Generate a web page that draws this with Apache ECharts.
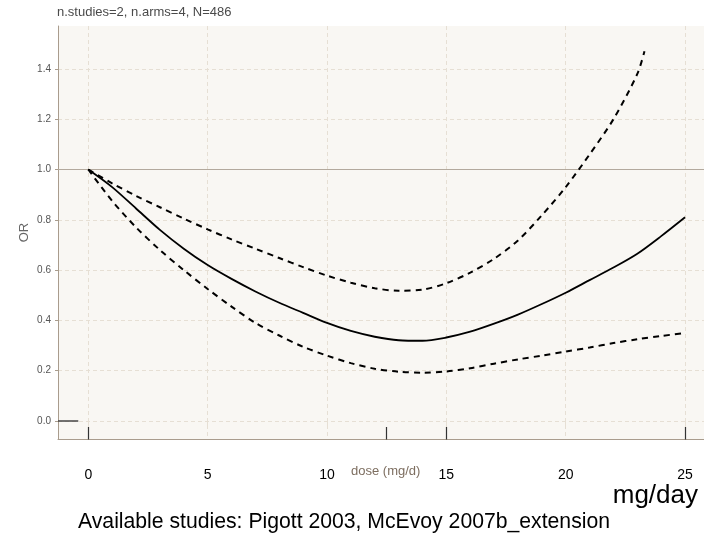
<!DOCTYPE html>
<html>
<head>
<meta charset="utf-8">
<script src="https://cdn.jsdelivr.net/npm/echarts@6/dist/echarts.min.js"></script>
<style>
  html, body { margin: 0; padding: 0; background: #ffffff; }
  #chart { width: 704px; height: 536px; }
</style>
</head>
<body>
<div id="chart"></div>
<script>
// Dose-response curve (odds ratio vs. dose) with 95% confidence band
const doses = [0, 1, 2, 3, 4, 5, 6, 7, 8, 9, 10, 11, 12, 13, 14, 15, 16, 17, 18, 19, 20, 21, 22, 23, 24, 25];
const orMean = [1.0, 0.93, 0.845, 0.76, 0.685, 0.62, 0.565, 0.515, 0.47, 0.43, 0.39, 0.358, 0.335, 0.321, 0.319, 0.332, 0.355, 0.387, 0.423, 0.465, 0.51, 0.56, 0.61, 0.665, 0.735, 0.81];
const orLower = [1.0, 0.875, 0.77, 0.68, 0.6, 0.525, 0.455, 0.39, 0.34, 0.295, 0.26, 0.23, 0.208, 0.196, 0.192, 0.197, 0.21, 0.228, 0.245, 0.26, 0.276, 0.292, 0.31, 0.325, 0.338, 0.35];
const upperDoses = [0, 1, 2, 3, 4, 5, 6, 7, 8, 9, 10, 11, 12, 13, 14, 15, 16, 17, 18, 19, 20, 21, 22, 23, 23.3];
const orUpper = [1.0, 0.945, 0.895, 0.85, 0.805, 0.762, 0.722, 0.685, 0.648, 0.612, 0.578, 0.55, 0.528, 0.518, 0.522, 0.548, 0.59, 0.645, 0.718, 0.818, 0.93, 1.06, 1.2, 1.38, 1.47];
const rugDoses = [0, 12.5, 15, 25];
const xTickStep = 5, xTickMax = 25;
const yTickStep = 0.2, yTickMax = 1.4;
const subtitle = 'n.studies=2, n.arms=4, N=486';
const doseLabel = 'dose (mg/d)';
const unitLabel = 'mg/day';
const footnote = 'Available studies: Pigott 2003, McEvoy 2007b_extension';

// Pixel frame of the panel
const plotL = 58, plotT = 26, plotR = 704, plotB = 439;
const x0px = 88.3, pxPerDose = 23.87;
const y0px = 421, pxPerOR = 251.5;

const xMinFull = (plotL - x0px) / pxPerDose;
const xMaxFull = (plotR - x0px) / pxPerDose;
const yMinFull = -(plotB - y0px) / pxPerOR;
const yMaxFull = (y0px - plotT) / pxPerOR;

const FONT = 'Arial, "Liberation Sans", sans-serif';
const axisBrown = '#a99c8d';
const gridDash = '#e6dfd4';

const pair = (xs, ys) => xs.map((x, i) => [x, ys[i]]);

const chart = echarts.init(document.getElementById('chart'), null, { renderer: 'canvas' });

chart.setOption({
  animation: false,
  backgroundColor: '#ffffff',
  textStyle: { fontFamily: FONT },
  graphic: [
    { type: 'text', x: plotL - 1, y: 12,
      style: { text: subtitle, fontSize: 13, fill: '#4a4a4a', fontFamily: FONT,
        align: 'left', verticalAlign: 'middle' } },
    { type: 'text', x: x0px + 12.5 * pxPerDose - 1, y: 471,
      style: { text: doseLabel, fontSize: 13, fill: '#7d6e60', fontFamily: FONT,
        align: 'center', verticalAlign: 'middle' } },
    { type: 'text', x: 698, y: 496,
      style: { text: unitLabel, fontSize: 26, fill: '#000', fontFamily: FONT,
        align: 'right', verticalAlign: 'middle' } },
    { type: 'text', x: 78, y: 522,
      style: { text: footnote, fontSize: 21.2, fill: '#000', fontFamily: FONT,
        align: 'left', verticalAlign: 'middle' } }
  ],
  grid: [
    // full panel: background, frame lines and data
    { left: plotL, top: plotT, width: plotR - plotL, height: plotB - plotT,
      show: true, backgroundColor: '#f9f7f3', borderWidth: 0 },
    // dose ticks 0..25
    { left: x0px, top: plotT, width: xTickMax * pxPerDose, height: plotB - plotT },
    // OR ticks 0..1.4
    { left: plotL, top: y0px - yTickMax * pxPerOR, width: plotR - plotL, height: yTickMax * pxPerOR }
  ],
  xAxis: [
    { type: 'value', gridIndex: 0, min: xMinFull, max: xMaxFull,
      axisLine: { show: true, onZero: false, lineStyle: { color: axisBrown, width: 1 } },
      axisTick: { show: false }, axisLabel: { show: false }, splitLine: { show: false } },
    { type: 'value', gridIndex: 1, min: 0, max: xTickMax, interval: xTickStep,
      axisLine: { show: false },
      axisTick: { show: true, length: 5, lineStyle: { color: gridDash, type: 'dashed' } },
      axisLabel: { show: true, margin: 29, fontSize: 14, color: '#000', fontFamily: FONT },
      splitLine: { show: true, lineStyle: { color: gridDash, type: [4, 3], width: 1 } } },
    { type: 'value', gridIndex: 2, min: 0, max: 1, show: false }
  ],
  yAxis: [
    { type: 'value', gridIndex: 0, min: yMinFull, max: yMaxFull,
      name: 'OR', nameLocation: 'middle', nameGap: 27, nameRotate: 90,
      nameTextStyle: { fontSize: 13, color: '#666', fontFamily: FONT },
      axisLine: { show: true, onZero: false, lineStyle: { color: axisBrown, width: 1 } },
      axisTick: { show: false }, axisLabel: { show: false }, splitLine: { show: false } },
    { type: 'value', gridIndex: 1, min: yMinFull, max: yMaxFull, show: false },
    { type: 'value', gridIndex: 2, min: 0, max: yTickMax, interval: yTickStep,
      axisLine: { show: false },
      axisTick: { show: true, length: 3, lineStyle: { color: axisBrown } },
      axisLabel: { show: true, margin: 7, fontSize: 10, color: '#555',
        formatter: v => v.toFixed(1), fontFamily: FONT },
      splitLine: { show: true, lineStyle: { color: gridDash, type: [4, 3], width: 1 } } }
  ],
  series: [
    // reference line at OR = 1
    { type: 'lines', coordinateSystem: 'cartesian2d', xAxisIndex: 0, yAxisIndex: 0,
      data: [{ coords: [[xMinFull, 1], [xMaxFull, 1]] }],
      lineStyle: { color: '#b3a99d', width: 1, opacity: 1 }, silent: true, z: 2 },
    // rug of observed doses
    { type: 'lines', coordinateSystem: 'cartesian2d', xAxisIndex: 0, yAxisIndex: 0,
      data: rugDoses.map(d => ({ coords: [[d, -0.024], [d, yMinFull - 0.01]] })),
      lineStyle: { color: '#333', width: 1.2, opacity: 1 }, silent: true, z: 3 },
    // rug mark at OR = 0
    { type: 'lines', coordinateSystem: 'cartesian2d', xAxisIndex: 0, yAxisIndex: 0,
      data: [{ coords: [[xMinFull, 0], [-0.42, 0]] }],
      lineStyle: { color: '#444', width: 1.5, opacity: 1 }, silent: true, z: 3 },
    { name: 'upper', type: 'line', xAxisIndex: 0, yAxisIndex: 0, data: pair(upperDoses, orUpper),
      showSymbol: false, smooth: 0.3, lineStyle: { color: '#000', width: 2, type: [6, 5] }, z: 4 },
    { name: 'lower', type: 'line', xAxisIndex: 0, yAxisIndex: 0, data: pair(doses, orLower),
      showSymbol: false, smooth: 0.3, lineStyle: { color: '#000', width: 2, type: [6, 5] }, z: 4 },
    { name: 'OR', type: 'line', xAxisIndex: 0, yAxisIndex: 0, data: pair(doses, orMean),
      showSymbol: false, smooth: 0.3, lineStyle: { color: '#000', width: 1.8 }, z: 5 }
  ]
});
</script>
</body>
</html>
